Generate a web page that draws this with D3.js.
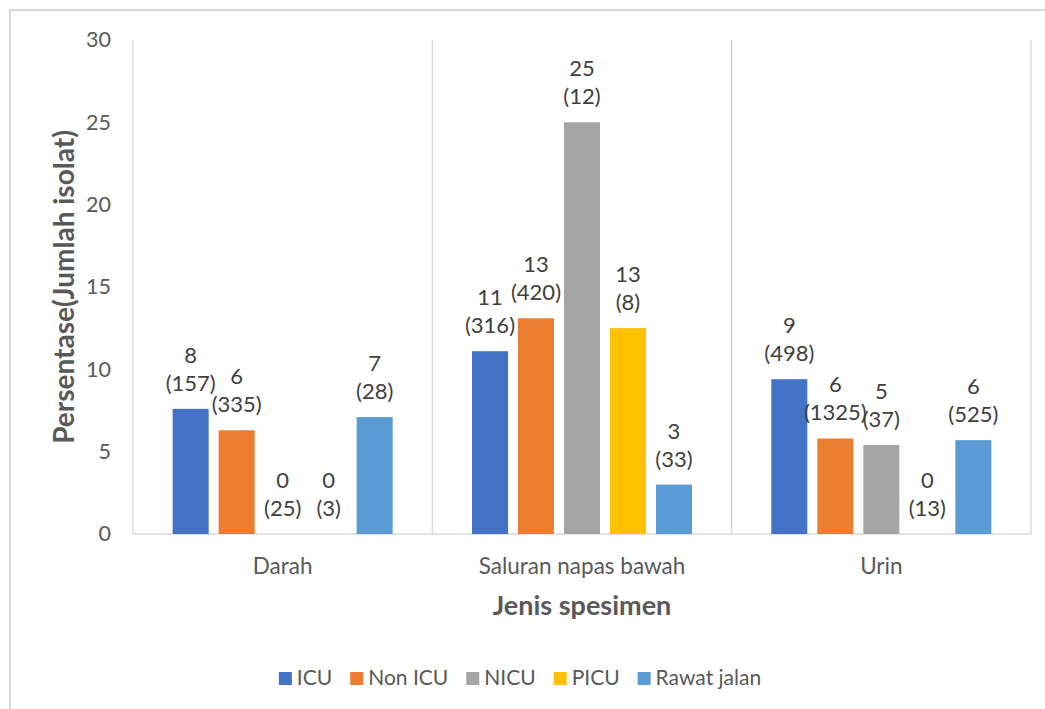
<!DOCTYPE html>
<html>
<head>
<meta charset="utf-8">
<script src="https://cdn.jsdelivr.net/npm/d3@7"></script>
<style>
  html, body { margin: 0; padding: 0; background: #fff; }
  svg { display: block; font-family: Lato, "Open Sans", sans-serif; }
</style>
</head>
<body>
<svg id="chart" width="1045" height="709"></svg>
<script>
// Specimen types on the x axis
const categories = ["Darah", "Saluran napas bawah", "Urin"];
// Ward groups (series)
const series = ["ICU", "Non ICU", "NICU", "PICU", "Rawat jalan"];
const colors = ["#4472C4", "#ED7D31", "#A5A5A5", "#FFC000", "#5B9BD5"];

// Percentage per ward, one array per specimen type (order follows `series`)
const pctDarah  = [7.6, 6.3, 0, 0, 7.1];
const pctSaluran = [11.1, 13.1, 25.0, 12.5, 3.0];
const pctUrin   = [9.4, 5.8, 5.4, 0, 5.7];

// Number of isolates per ward
const nDarah   = [157, 335, 25, 3, 28];
const nSaluran = [316, 420, 12, 8, 33];
const nUrin    = [498, 1325, 37, 13, 525];

const yTicks = [0, 5, 10, 15, 20, 25, 30];

const pctRows = [pctDarah, pctSaluran, pctUrin];
const nRows = [nDarah, nSaluran, nUrin];

const svg = d3.select("#chart");

// outer chart frame
svg.append("rect")
  .attr("x", 10).attr("y", 10)
  .attr("width", 1100).attr("height", 800)
  .attr("fill", "none").attr("stroke", "#d9d9d9").attr("stroke-width", 2);

const plot = { left: 133, right: 1031, top: 40, bottom: 534 };

const x0 = d3.scaleBand().domain(categories).range([plot.left, plot.right]).padding(0);
const x1 = d3.scaleBand().domain(series).range([0, x0.bandwidth()])
  .paddingInner(0.217).paddingOuter(0.862);
const y = d3.scaleLinear().domain([0, 30]).range([plot.bottom, plot.top]);

// vertical separators at category boundaries
const bounds = categories.map(c => x0(c)).concat([x0(categories[categories.length - 1]) + x0.bandwidth()]);
svg.append("g").selectAll("line").data(bounds).join("line")
  .attr("x1", d => d).attr("x2", d => d)
  .attr("y1", y(30)).attr("y2", y(0))
  .attr("stroke", "#d9d9d9").attr("stroke-width", 1.3);

// baseline
svg.append("line")
  .attr("x1", plot.left).attr("x2", plot.right)
  .attr("y1", y(0)).attr("y2", y(0))
  .attr("stroke", "#d9d9d9").attr("stroke-width", 1.3);

// y axis ticks (labels only)
const yAxis = d3.axisLeft(y).tickValues(yTicks).tickSize(0).tickPadding(22);
const gy = svg.append("g").attr("transform", `translate(${plot.left},0)`).call(yAxis);
gy.select(".domain").remove();
gy.selectAll("text").attr("fill", "#595959").style("font-size", "21.5px").style("font-family", "Lato, sans-serif");

// x axis category labels
const xAxis = d3.axisBottom(x0).tickSize(0).tickPadding(24);
const gx = svg.append("g").attr("transform", `translate(0,${plot.bottom})`).call(xAxis);
gx.select(".domain").remove();
gx.selectAll("text").attr("fill", "#595959").style("font-size", "22.5px").style("font-family", "Lato, sans-serif");

// bars
const rows = categories.map((c, i) => ({
  cat: c,
  items: series.map((s, j) => ({ s, j, v: pctRows[i][j], n: nRows[i][j] }))
}));

const groups = svg.append("g").selectAll("g").data(rows).join("g")
  .attr("transform", d => `translate(${x0(d.cat)},0)`);

groups.selectAll("rect").data(d => d.items).join("rect")
  .attr("x", d => x1(d.s))
  .attr("width", x1.bandwidth())
  .attr("y", d => y(d.v))
  .attr("height", d => y(0) - y(d.v))
  .attr("fill", d => colors[d.j]);

// data labels: rounded percentage over isolate count
const lbl = groups.selectAll("text.lbl").data(d => d.items).join("text")
  .attr("class", "lbl")
  .attr("text-anchor", "middle")
  .attr("fill", "#404040")
  .style("font-size", "22px");
lbl.append("tspan")
  .attr("x", d => x1(d.s) + x1.bandwidth() / 2)
  .attr("y", d => y(d.v) - 46)
  .text(d => d3.format(".0f")(d.v));
lbl.append("tspan")
  .attr("x", d => x1(d.s) + x1.bandwidth() / 2)
  .attr("y", d => y(d.v) - 18)
  .text(d => `(${d.n})`);

// axis titles
svg.append("text")
  .attr("transform", `translate(74,${(plot.top + plot.bottom) / 2}) rotate(-90)`)
  .attr("text-anchor", "middle")
  .attr("fill", "#595959")
  .style("font-size", "28px").style("font-weight", "bold")
  .text("Persentase(Jumlah isolat)");

svg.append("text")
  .attr("x", (plot.left + plot.right) / 2)
  .attr("y", 615)
  .attr("text-anchor", "middle")
  .attr("fill", "#595959")
  .style("font-size", "27px").style("font-weight", "bold")
  .text("Jenis spesimen");

// legend
const legend = svg.append("g");
let lx = 0;
series.forEach((s, i) => {
  const g = legend.append("g").attr("transform", `translate(${lx},0)`);
  g.append("rect").attr("x", 0).attr("y", 672).attr("width", 13).attr("height", 13).attr("fill", colors[i]);
  const t = g.append("text").attr("x", 18).attr("y", 685)
    .attr("fill", "#595959").style("font-size", "21px").text(s);
  lx += 18 + t.node().getComputedTextLength() + 18;
});
const legendW = lx - 18;
legend.attr("transform", `translate(${520 - legendW / 2},0)`);
</script>
</body>
</html>
